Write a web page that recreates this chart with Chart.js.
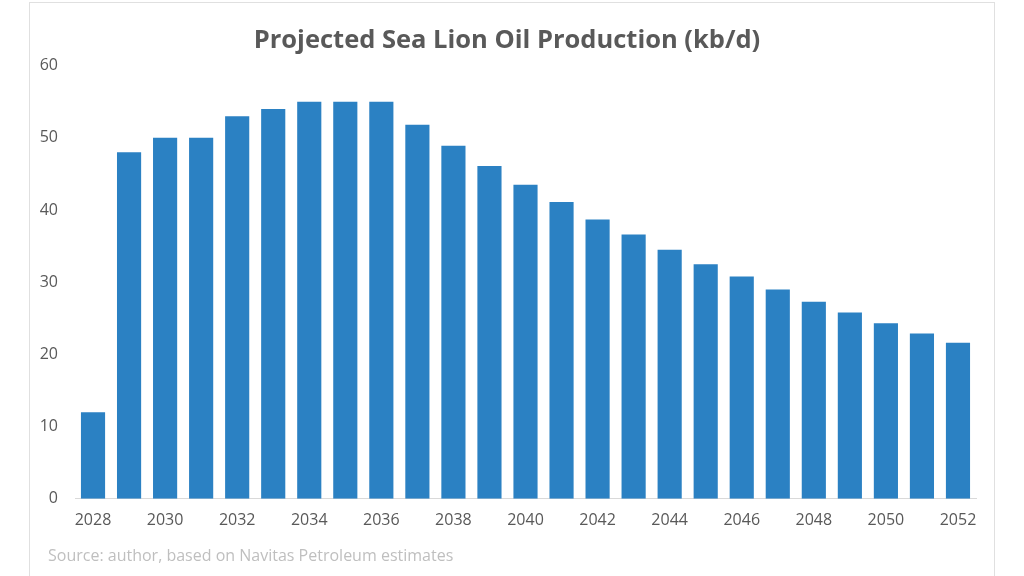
<!DOCTYPE html>
<html lang="en">

<head>
  <meta charset="UTF-8">
  <title>Projected Sea Lion Oil Production</title>
  <script src="https://cdn.jsdelivr.net/npm/chart.js"></script>
  <style>
    html, body {
      margin: 0;
      padding: 0;
      background: #fff;
      overflow: hidden;
    }
    .frame {
      position: absolute;
      left: 29px;
      top: 2px;
      width: 964px;
      height: 620px;
      border: 1px solid #e0e0e0;
    }
    .chart-container {
      position: absolute;
      left: 0;
      top: 0;
      width: 1024px;
      height: 576px;
    }
    .source {
      position: absolute;
      left: 48px;
      top: 544px;
      font-family: "Open Sans", sans-serif;
      font-size: 16px;
      line-height: 22px;
      color: #bfbfbf;
    }
  </style>
</head>

<body>
  <div class="frame"></div>
  <div class="chart-container">
    <canvas id="prodChart"></canvas>
  </div>
  <div class="source">Source: author, based on Navitas Petroleum estimates</div>

  <script>
    // production by year, kb/d
    const years = ['2028', '2029', '2030', '2031', '2032', '2033', '2034', '2035', '2036',
      '2037', '2038', '2039', '2040', '2041', '2042', '2043', '2044', '2045', '2046',
      '2047', '2048', '2049', '2050', '2051', '2052'];
    const production = [12, 48, 50, 50, 53, 54, 55, 55, 55,
      51.8, 48.9, 46.1, 43.5, 41.1, 38.7, 36.6, 34.5, 32.5, 30.8,
      29, 27.3, 25.8, 24.3, 22.9, 21.6];
    const yTicks = [0, 10, 20, 30, 40, 50, 60];

    const textColor = '#595959';

    const ctx = document.getElementById('prodChart').getContext('2d');
    new Chart(ctx, {
      type: 'bar',
      data: {
        labels: years,
        datasets: [{
          label: 'Production (kb/d)',
          data: production,
          backgroundColor: '#2b81c3',
          borderWidth: 0,
          categoryPercentage: 1,
          barPercentage: 0.67
        }]
      },
      options: {
        responsive: true,
        maintainAspectRatio: false,
        animation: false,
        layout: {
          padding: { left: 38, right: 48, top: 25, bottom: 34 }
        },
        plugins: {
          legend: { display: false },
          tooltip: { enabled: false },
          title: {
            display: true,
            text: 'Projected Sea Lion Oil Production (kb/d)',
            color: textColor,
            font: { family: 'Open Sans', size: 25.5, weight: 'bold' },
            padding: { top: 0, bottom: 10 }
          }
        },
        scales: {
          x: {
            grid: { display: false, drawTicks: false },
            border: { display: true, color: '#d9d9d9', width: 1 },
            ticks: {
              color: textColor,
              font: { family: 'Open Sans', size: 16 },
              padding: 12,
              maxRotation: 0,
              autoSkip: false,
              callback: function (val, i) {
                return i % 2 === 0 ? years[i] : '';
              }
            }
          },
          y: {
            min: yTicks[0],
            max: yTicks[yTicks.length - 1],
            grid: { display: false, drawTicks: false },
            border: { display: false },
            afterBuildTicks: function (axis) {
              axis.ticks = yTicks.map(function (v) { return { value: v }; });
            },
            // fixed width so the plot starts where the original does
            afterFit: function (axis) {
              axis.width = 37;
            },
            ticks: {
              color: textColor,
              font: { family: 'Open Sans', size: 16 },
              padding: 17
            }
          }
        }
      }
    });
  </script>
</body>

</html>
